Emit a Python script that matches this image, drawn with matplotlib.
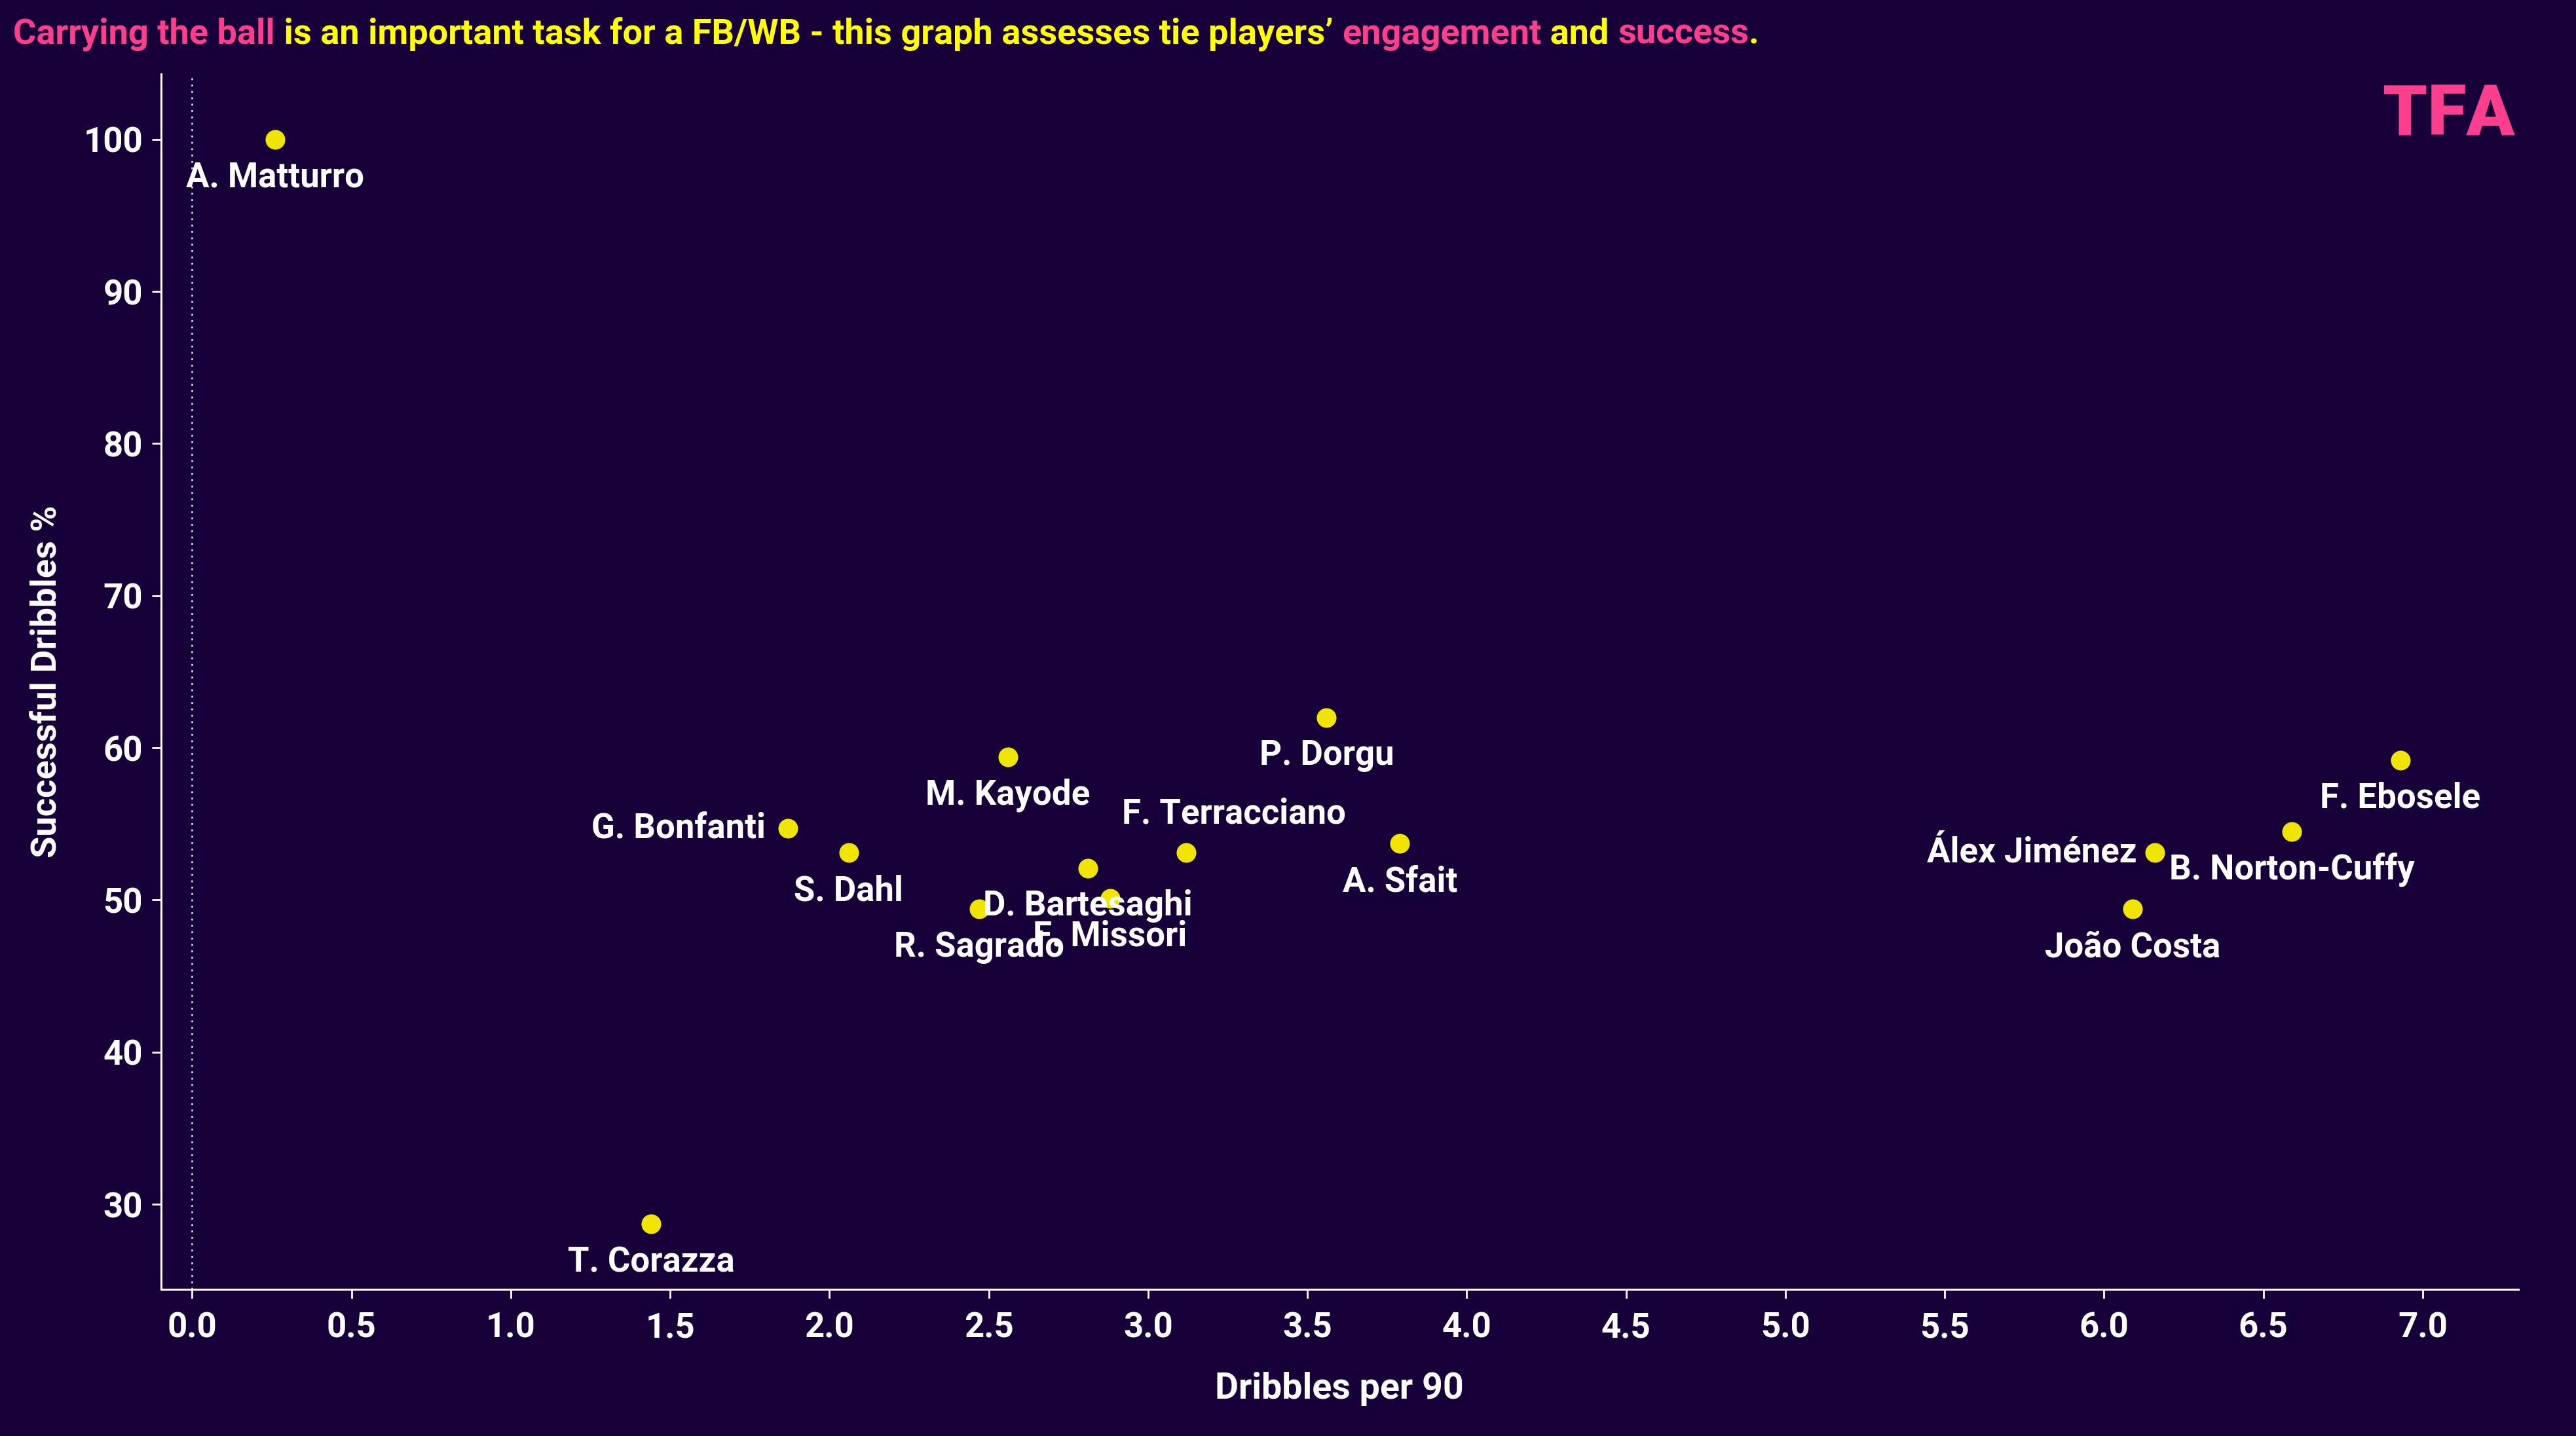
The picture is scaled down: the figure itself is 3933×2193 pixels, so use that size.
import matplotlib
matplotlib.use("Agg")
import matplotlib.pyplot as plt

# colours
BG = "#17003A"
PINK = "#FF3E8E"
YELLOW = "#FFFF00"
DOT = "#F0E500"
WHITE = "#FFFFFF"

plt.rcParams['font.family'] = ['Roboto', 'DejaVu Sans']

players = ["A. Matturro", "T. Corazza", "G. Bonfanti", "S. Dahl", "M. Kayode",
           "R. Sagrado", "D. Bartesaghi", "F. Missori", "F. Terracciano", "P. Dorgu",
           "A. Sfait", "Álex Jiménez", "João Costa", "B. Norton-Cuffy", "F. Ebosele"]
dribbles_p90 = [0.26, 1.44, 1.87, 2.06, 2.56,
                2.47, 2.81, 2.88, 3.12, 3.56,
                3.79, 6.16, 6.09, 6.59, 6.93]
success_pct = [100.0, 28.7, 54.7, 53.1, 59.4,
               49.4, 52.1, 50.1, 53.1, 62.0,
               53.7, 53.1, 49.4, 54.5, 59.2]

x_ticks = [0.0, 0.5, 1.0, 1.5, 2.0, 2.5, 3.0, 3.5, 4.0, 4.5, 5.0, 5.5, 6.0, 6.5, 7.0]
y_ticks = [30, 40, 50, 60, 70, 80, 90, 100]

# label placement (offset points, horizontal alignment)
below = (0, -42, 'center')
label_pos = {
    "G. Bonfanti": (-25, 0, 'right'),
    "Álex Jiménez": (-20, 0, 'right'),
    "F. Terracciano": (52, 43, 'center'),
}

fig = plt.figure(figsize=(39.33, 21.93), dpi=100, facecolor=BG)
ax = fig.add_axes([0.0625, 0.1021, 0.9151, 0.8464])
ax.set_facecolor(BG)

ax.axvline(0, color=WHITE, lw=2, ls=(0, (1, 2.5)), alpha=0.85, zorder=1)
ax.scatter(dribbles_p90, success_pct, s=470, color=DOT, zorder=3, linewidths=0)

for name, x, y in zip(players, dribbles_p90, success_pct):
    dx, dy, ha = label_pos.get(name, below)
    ax.annotate(name, (x, y), xytext=(dx, dy), textcoords='offset points',
                ha=ha, va='center', color=WHITE, fontsize=38, fontweight='bold', zorder=4)

ax.set_xlim(-0.098, 7.30)
ax.set_ylim(24.4, 104.3)
ax.set_xticks(x_ticks)
ax.set_xticklabels([f"{t:.1f}" for t in x_ticks])
ax.set_yticks(y_ticks)

for s in ['top', 'right']:
    ax.spines[s].set_visible(False)
for s in ['left', 'bottom']:
    ax.spines[s].set_color(WHITE)
    ax.spines[s].set_linewidth(2.2)
ax.tick_params(colors=WHITE, labelsize=38, length=10, width=2)
ax.tick_params(axis='x', pad=14)
ax.tick_params(axis='y', pad=10)
for lab in ax.get_xticklabels() + ax.get_yticklabels():
    lab.set_fontweight('bold')

ax.set_xlabel("Dribbles per 90", color=WHITE, fontsize=40, fontweight='bold', labelpad=30)
ax.set_ylabel("Successful Dribbles %", color=WHITE, fontsize=39, fontweight='bold', labelpad=22)

# multi-coloured title
pieces = [("Carrying the ball", PINK),
          (" is an important task for a FB/WB - this graph assesses tie players\u2019 ", YELLOW),
          ("engagement", PINK), (" and ", YELLOW), ("success", PINK), (".", YELLOW)]
renderer = fig.canvas.get_renderer()
xpos = 20
for txt, col in pieces:
    t = fig.text(xpos / fig.bbox.width, 1 - 52 / fig.bbox.height, txt, color=col,
                 fontsize=39, fontweight='bold', va='center', ha='left')
    xpos += t.get_window_extent(renderer).width

fig.text(3840 / 3933, 1 - 177 / 2193, "TFA", color=PINK, fontsize=78,
         fontweight='heavy', ha='right', va='center')

fig.savefig("out.png", dpi=100, facecolor=BG)
